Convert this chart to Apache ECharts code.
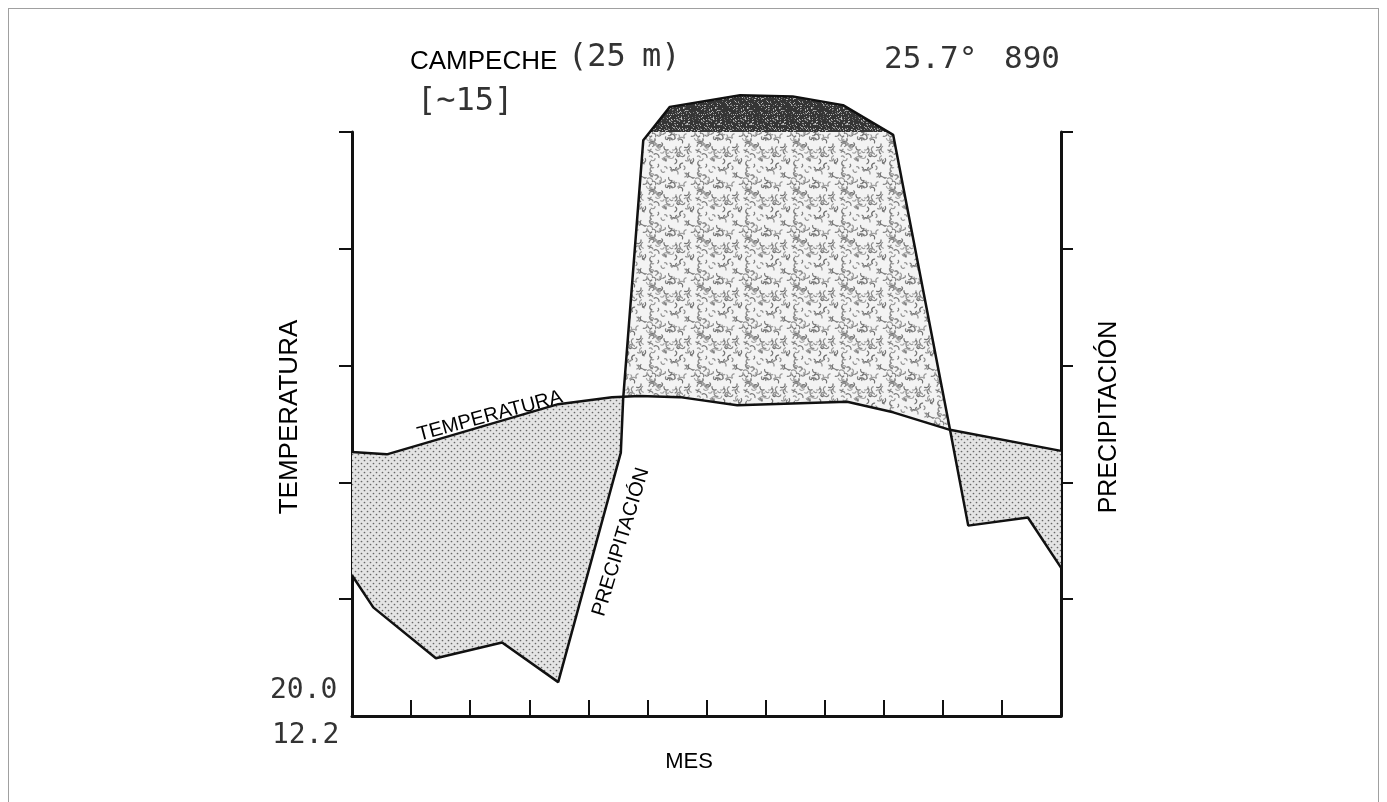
<!DOCTYPE html>
<html><head><meta charset="utf-8">
<script src="https://cdn.jsdelivr.net/npm/echarts@6/dist/echarts.min.js"></script>
<style>
html,body{margin:0;padding:0;background:#fff;}
#frame{position:absolute;left:8px;top:8px;width:1371px;height:820px;border:1px solid #a0a0a0;box-sizing:border-box;}
#chart{position:absolute;left:0;top:0;width:1387px;height:802px;}
</style></head>
<body><div id="frame"></div><div id="chart"></div>
<script>
// ---- Data ----
// x positions in months (0 = start of January, 12 = end of December)
const tempX  = [0, 0.59, 3.49, 4.40, 4.87, 5.55, 6.52, 8.38, 9.16, 10.12, 12];
const tempC  = [22.6, 22.4, 26.7, 27.3, 27.4, 27.3, 26.6, 26.9, 26.0, 24.5, 22.7];
const precX  = [0, 0.36, 1.42, 2.54, 3.49, 4.55, 4.59, 4.93, 5.38, 6.57, 7.46, 8.31, 9.16, 10.12, 10.43, 11.44, 12];
const precMM = [24.1, 18.6, 9.9, 12.6, 5.8, 45.1, 54.4, 98.6, 143, 163, 161, 146, 99.5, 49.1, 32.6, 34.0, 25.4];
const tempTicks = [10, 20, 30, 40, 50];
const precTicks = [20, 40, 60, 80, 100];
const monthTicks = [1, 2, 3, 4, 5, 6, 7, 8, 9, 10, 11];

// Walter-Lieth conventions: 10 °C = 20 mm; above 100 mm scale reduced 1:10
function plotP(v){ return v <= 100 ? v : 100 + (v - 100) / 10; }
const P = precMM.map(plotP);
const T2 = tempC.map(t => t * 2);

function lin(xs, ys, x){
  for (let i = 0; i < xs.length - 1; i++) {
    if (x >= xs[i] && x <= xs[i+1]) {
      const t = (x - xs[i]) / (xs[i+1] - xs[i]);
      return ys[i] + t * (ys[i+1] - ys[i]);
    }
  }
  return ys[ys.length - 1];
}
const fP = x => lin(precX, P, x);
const fT = x => lin(tempX, T2, x);

// ---- textures ----
function lcg(seed){ let s = seed; return () => { s = (s * 1103515245 + 12345) % 2147483648; return s / 2147483648; }; }
function dryPattern(){
  const c = document.createElement('canvas'); c.width = 6; c.height = 6;
  const g = c.getContext('2d');
  g.fillStyle = '#e4e4e4'; g.fillRect(0,0,6,6);
  g.fillStyle = '#666';
  [[1.5,1.5],[4.5,4.5]].forEach(([x,y]) => { g.beginPath(); g.arc(x,y,0.85,0,Math.PI*2); g.fill(); });
  return c;
}
function wetPattern(){
  const n = 48, c = document.createElement('canvas'); c.width = n; c.height = n;
  const g = c.getContext('2d'); const r = lcg(7);
  g.fillStyle = '#f3f3f3'; g.fillRect(0,0,n,n);
  g.lineWidth = 1.2;
  for (let k = 0; k < 90; k++) {
    const x = r()*n, y = r()*n, rad = 1.4 + r()*1.8, a = r()*Math.PI*2;
    const shade = 110 + Math.floor(r()*60);
    g.strokeStyle = 'rgb(' + shade + ',' + shade + ',' + shade + ')';
    for (const dx of [-n,0,n]) for (const dy of [-n,0,n]) {
      g.beginPath(); g.arc(x+dx, y+dy, rad, a, a + 2.6); g.stroke();
    }
  }
  return c;
}
function darkPattern(){
  const n = 32, c = document.createElement('canvas'); c.width = n; c.height = n;
  const g = c.getContext('2d'); const r = lcg(11);
  g.fillStyle = '#353535'; g.fillRect(0,0,n,n);
  for (let k = 0; k < 220; k++) {
    const shade = 90 + Math.floor(r()*110);
    g.fillStyle = 'rgb(' + shade + ',' + shade + ',' + shade + ')';
    g.fillRect(Math.floor(r()*n), Math.floor(r()*n), 1, 1);
  }
  return c;
}
const FILL_DRY = {image: dryPattern(), repeat: 'repeat'};
const FILL_WET = {image: wetPattern(), repeat: 'repeat'};
const FILL_DARK = {image: darkPattern(), repeat: 'repeat'};

// ---- fill regions between the two curves ----
function buildRegions(){
  let B = Array.from(new Set(tempX.concat(precX))).sort((a,b) => a-b);
  const extra = [];
  for (let i = 0; i < B.length - 1; i++) {
    const a = B[i], b = B[i+1];
    const da = fP(a) - fT(a), db = fP(b) - fT(b);
    if (da * db < 0) extra.push(a + (b - a) * da / (da - db));
    const ea = fP(a) - 100, eb = fP(b) - 100;
    if (ea * eb < 0) extra.push(a + (b - a) * ea / (ea - eb));
  }
  B = Array.from(new Set(B.concat(extra))).sort((a,b) => a-b);
  const regions = [];
  function addRuns(test, upper, lower, fill){
    let run = null;
    for (let i = 0; i < B.length - 1; i++) {
      const m = (B[i] + B[i+1]) / 2;
      if (test(m)) {
        if (!run) run = [B[i]];
        run.push(B[i+1]);
      } else if (run) { regions.push({xs: run, upper, lower, fill}); run = null; }
    }
    if (run) regions.push({xs: run, upper, lower, fill});
  }
  addRuns(x => fP(x) < fT(x), fT, fP, FILL_DRY);
  addRuns(x => fP(x) > fT(x), x => Math.min(fP(x), 100), fT, FILL_WET);
  addRuns(x => fP(x) > 100, fP, x => 100, FILL_DARK);
  return regions;
}
const regions = buildRegions();

const chart = echarts.init(document.getElementById('chart'), null, {renderer: 'canvas'});
const axisColor = '#111';
const scanFont = '"DejaVu Sans Mono", monospace';
chart.setOption({
  animation: false,
  backgroundColor: 'transparent',
  grid: {left: 352, right: 326, top: 132, bottom: 86},
  xAxis: {
    type: 'value', min: 0, max: 12, interval: 1,
    axisLine: {lineStyle: {color: axisColor, width: 3}},
    axisTick: {inside: true, length: 16, customValues: monthTicks, lineStyle: {color: axisColor, width: 2}},
    axisLabel: {show: false}, splitLine: {show: false}
  },
  yAxis: [{
    type: 'value', position: 'left', min: 0, max: 50, interval: 10,
    axisLine: {show: true, lineStyle: {color: axisColor, width: 3}},
    axisTick: {show: true, inside: false, length: 13, customValues: tempTicks, lineStyle: {color: axisColor, width: 2}},
    axisLabel: {show: false}, splitLine: {show: false}
  }, {
    type: 'value', position: 'right', min: 0, max: 100, interval: 20,
    axisLine: {show: true, lineStyle: {color: axisColor, width: 3}},
    axisTick: {show: true, inside: false, length: 12, customValues: precTicks, lineStyle: {color: axisColor, width: 2}},
    axisLabel: {show: false}, splitLine: {show: false}
  }],
  series: [{
    type: 'custom', xAxisIndex: 0, yAxisIndex: 1, data: [[0, 0]], clip: false, silent: true, z: 1,
    renderItem: function(params, api){
      const children = regions.map(r => {
        const pts = [];
        r.xs.forEach(x => pts.push(api.coord([x, r.upper(x)])));
        for (let i = r.xs.length - 1; i >= 0; i--) pts.push(api.coord([r.xs[i], r.lower(r.xs[i])]));
        return {type: 'polygon', shape: {points: pts}, style: {fill: r.fill, stroke: null}};
      });
      return {type: 'group', children};
    }
  }, {
    name: 'Temperatura', type: 'line', yAxisIndex: 0, z: 5, clip: false,
    data: tempX.map((x, i) => [x, tempC[i]]),
    symbol: 'none', lineStyle: {color: '#111', width: 2.5}
  }, {
    name: 'Precipitación', type: 'line', yAxisIndex: 1, z: 5, clip: false,
    data: precX.map((x, i) => [x, P[i]]),
    symbol: 'none', lineStyle: {color: '#111', width: 2.5}
  }],
  graphic: [
    {type: 'text', left: 410, top: 49, style: {text: 'CAMPECHE', font: '26px "Liberation Sans"', fill: '#000'}},
    {type: 'text', left: 568, top: 42, style: {text: '(25', font: '32px ' + scanFont, fill: '#333'}},
    {type: 'text', left: 642, top: 42, style: {text: 'm)', font: '32px ' + scanFont, fill: '#333'}},
    {type: 'text', left: 884, top: 44, style: {text: '25.7°', font: '31px ' + scanFont, fill: '#333'}},
    {type: 'text', left: 1004, top: 44, style: {text: '890', font: '31px ' + scanFont, fill: '#333'}},
    {type: 'text', left: 417, top: 86, style: {text: '[~15]', font: '32px ' + scanFont, fill: '#333'}},
    {type: 'text', left: 270, top: 677, style: {text: '20.0', font: '28px ' + scanFont, fill: '#333'}},
    {type: 'text', left: 272, top: 722, style: {text: '12.2', font: '28px ' + scanFont, fill: '#333'}},
    {type: 'text', x: 689, y: 762, style: {text: 'MES', font: '22px "Liberation Sans"', fill: '#000', align: 'center', verticalAlign: 'middle'}},
    {type: 'text', x: 290, y: 417, rotation: Math.PI / 2,
     style: {text: 'TEMPERATURA', font: '26px "Liberation Sans"', fill: '#000', align: 'center', verticalAlign: 'middle'}},
    {type: 'text', x: 1109, y: 417, rotation: Math.PI / 2,
     style: {text: 'PRECIPITACIÓN', font: '25px "Liberation Sans"', fill: '#000', align: 'center', verticalAlign: 'middle'}},
    {type: 'text', x: 490, y: 416, rotation: 15 * Math.PI / 180,
     style: {text: 'TEMPERATURA', font: '20px "Liberation Sans"', fill: '#000', align: 'center', verticalAlign: 'middle'}},
    {type: 'text', x: 621, y: 542, rotation: 73 * Math.PI / 180,
     style: {text: 'PRECIPITACIÓN', font: '20px "Liberation Sans"', fill: '#000', align: 'center', verticalAlign: 'middle'}}
  ]
});
</script>
</body></html>
